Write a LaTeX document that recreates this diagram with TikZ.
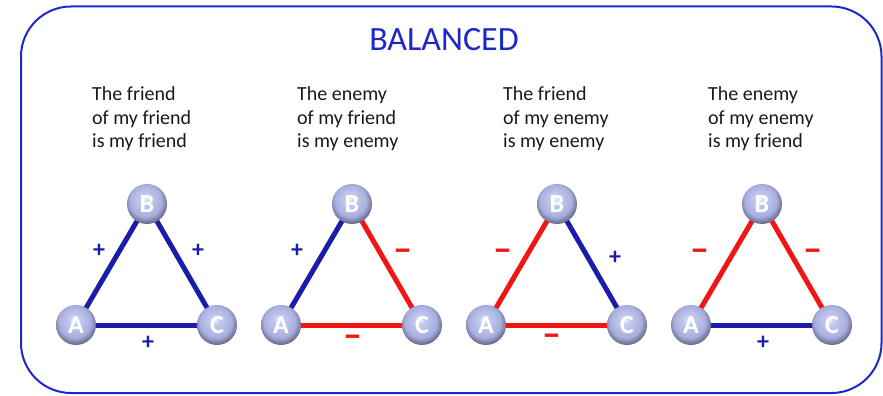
\documentclass[tikz,border=0pt]{standalone}
\usepackage{fontspec}
\setmainfont{Carlito}
\definecolor{edgeblue}{RGB}{28,28,170}
\definecolor{edgered}{RGB}{240,22,22}
\definecolor{frameblue}{RGB}{30,40,200}
\definecolor{sphhi}{RGB}{242,244,252}
\definecolor{sphmid}{RGB}{196,202,238}
\definecolor{sphlow}{RGB}{168,175,222}
\definecolor{sphrim}{RGB}{105,110,145}
\pgfdeclareradialshading{sphereshade}{\pgfpoint{-3bp}{7bp}}{%
  color(0bp)=(sphhi); color(6bp)=(sphmid); color(20bp)=(sphlow);
  color(27bp)=(sphrim); color(50bp)=(sphrim)}
\tikzset{
  sph/.style={circle, minimum size=40pt, inner sep=0pt, shading=sphereshade, text=white,
    font=\fontsize{26}{26}\selectfont\bfseries},
  posedge/.style={line width=5pt, edgeblue},
  negedge/.style={line width=5pt, edgered},
  plabel/.style={inner sep=0pt, text=edgeblue, font=\fontsize{24}{24}\selectfont\bfseries},
  nlabel/.style={inner sep=0pt, text=edgered, font=\fontsize{38}{38}\selectfont\bfseries},
  saying/.style={anchor=north west, inner sep=0pt, align=left, text=black!90,
    font=\fontsize{20}{23.5}\selectfont},
}
\begin{document}
\begin{tikzpicture}[x=1pt, y=-1pt]
\useasboundingbox (0,0) rectangle (883,396);
\draw[frameblue, line width=2pt, rounded corners=50pt] (21,6.5) rectangle (881.5,393);
\node[inner sep=0pt, text=frameblue, font=\fontsize{34}{34}\selectfont] (title) at (444,40) {BALANCED};

\node[saying] (s1) at (92,86.5) {The friend\\of my friend\\is my friend};
\node[saying] (s2) at (297,86.5) {The enemy\\of my friend\\is my enemy};
\node[saying] (s3) at (503,86.5) {The friend\\of my enemy\\is my enemy};
\node[saying] (s4) at (708,86.5) {The enemy\\of my enemy\\is my friend};

\coordinate (A1) at (76,325); \coordinate (B1) at (147,204); \coordinate (C1) at (217,325);
\coordinate (A2) at (281,325); \coordinate (B2) at (352,204); \coordinate (C2) at (422,325);
\coordinate (A3) at (486,325); \coordinate (B3) at (557,204); \coordinate (C3) at (627,325);
\coordinate (A4) at (691,325); \coordinate (B4) at (762,204); \coordinate (C4) at (832,325);

\draw[posedge] (A1) -- (B1); \draw[posedge] (B1) -- (C1); \draw[posedge] (A1) -- (C1);
\draw[posedge] (A2) -- (B2); \draw[negedge] (B2) -- (C2); \draw[negedge] (A2) -- (C2);
\draw[negedge] (A3) -- (B3); \draw[posedge] (B3) -- (C3); \draw[negedge] (A3) -- (C3);
\draw[negedge] (A4) -- (B4); \draw[negedge] (B4) -- (C4); \draw[posedge] (A4) -- (C4);

\foreach \i in {1,2,3,4}{
  \node[sph] (nA\i) at (A\i) {A};
  \node[sph] (nB\i) at (B\i) {B};
  \node[sph] (nC\i) at (C\i) {C};
}

\node[plabel] (l1ab) at (99,251) {+};
\node[plabel] (l1bc) at (198,251) {+};
\node[plabel] (l1ac) at (148,343) {+};
\node[plabel] (l2ab) at (297,251) {+};
\node[nlabel] (l2bc) at (403,255) {–};
\node[nlabel] (l2ac) at (353,341) {–};
\node[nlabel] (l3ab) at (503,255) {–};
\node[plabel] (l3bc) at (615,258) {+};
\node[nlabel] (l3ac) at (552,340) {–};
\node[nlabel] (l4ab) at (700,255) {–};
\node[nlabel] (l4bc) at (813,255) {–};
\node[plabel] (l4ac) at (763,343) {+};
\end{tikzpicture}
\end{document}
